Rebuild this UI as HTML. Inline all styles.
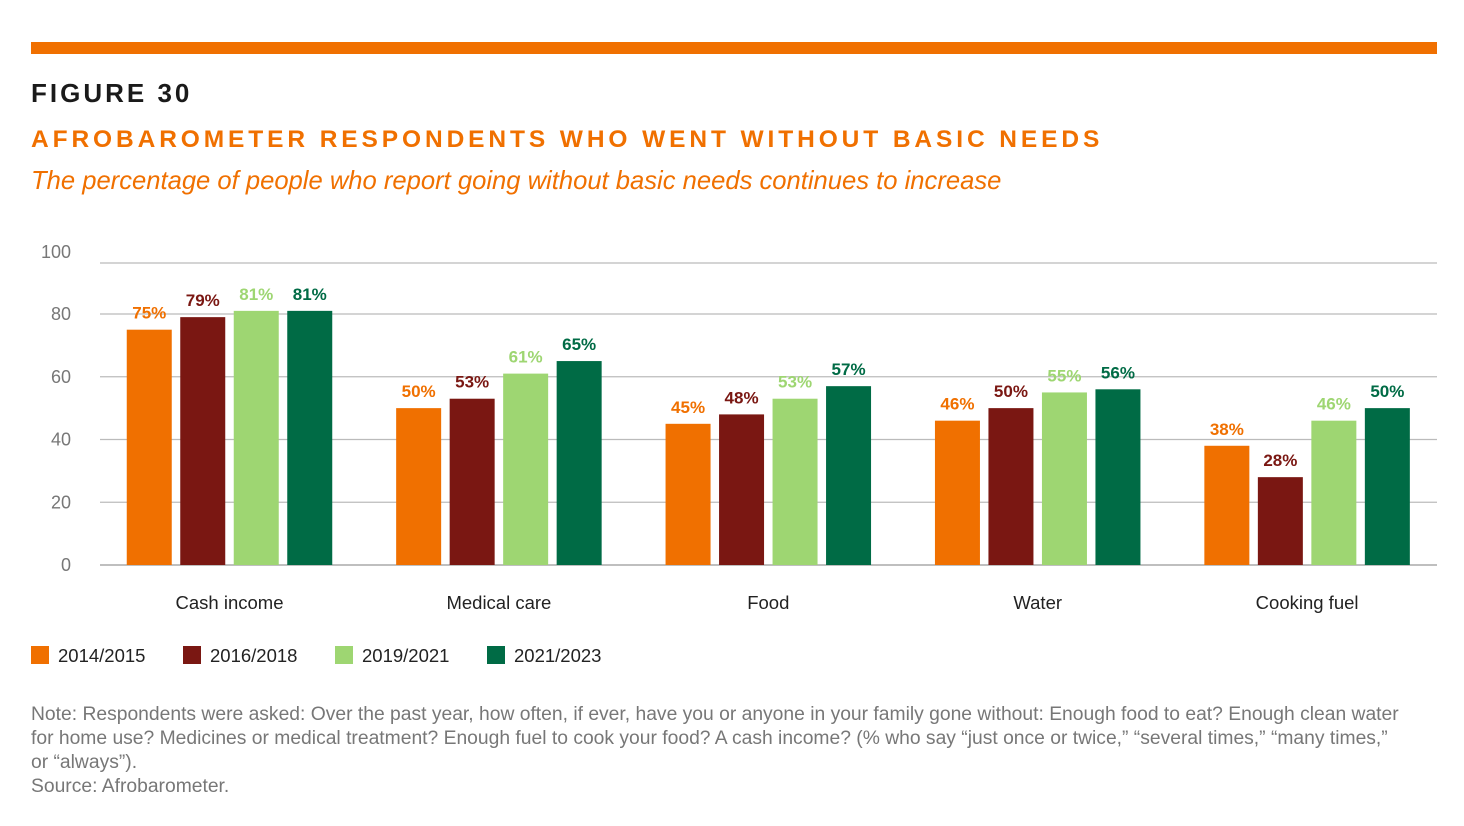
<!DOCTYPE html>
<html><head><meta charset="utf-8"><style>
body{margin:0;width:1464px;height:826px;background:#fff;font-family:"Liberation Sans",sans-serif;position:relative;overflow:hidden}
.abs{position:absolute}
</style></head><body>
<div class="abs" style="left:31px;top:42px;width:1406px;height:12px;background:#F07000"></div>
<div class="abs" style="left:31px;top:78px;font-size:26px;font-weight:bold;letter-spacing:3px;color:#1a1a1a">FIGURE 30</div>
<div class="abs" style="left:31px;top:126px;font-size:24.5px;font-weight:bold;letter-spacing:3.9px;color:#F07000">AFROBAROMETER RESPONDENTS WHO WENT WITHOUT BASIC NEEDS</div>
<div class="abs" style="left:31px;top:167px;font-size:25.6px;font-style:italic;color:#F07000">The percentage of people who report going without basic needs continues to increase</div>
<svg class="abs" style="left:0;top:0" width="1464" height="826" id="chart"></svg>
<div class="abs" style="left:31px;top:646px;font-size:18.5px;color:#222" id="legend"></div>
<div class="abs" style="left:31px;top:703px;width:1376px;font-size:19.3px;line-height:24px;color:#777">Note: Respondents were asked: Over the past year, how often, if ever, have you or anyone in your family gone without: Enough food to eat? Enough clean water for home use? Medicines or medical treatment? Enough fuel to cook your food? A cash income? (% who say “just once or twice,” “several times,” “many times,” or “always”).<br>Source: Afrobarometer.</div>
<script>
const categories=["Cash income","Medical care","Food","Water","Cooking fuel"];
const seriesNames=["2014/2015","2016/2018","2019/2021","2021/2023"];
const s2014=[75,50,45,46,38];
const s2016=[79,53,48,50,28];
const s2019=[81,61,53,55,46];
const s2021=[81,65,57,56,50];
const ticks=[0,20,40,60,80,100];
const series=[s2014,s2016,s2019,s2021];
const colors=["#F07000","#7A1712","#9ED672","#006B45"];
const NS="http://www.w3.org/2000/svg";
const svg=document.getElementById('chart');
const y=v=>565-v*3.1375;
const xc=i=>229.5+i*269.4;
function mk(t,a,txt){const e=document.createElementNS(NS,t);for(const k in a)e.setAttribute(k,a[k]);if(txt!=null)e.textContent=txt;svg.appendChild(e);return e;}
ticks.forEach(t=>{
  const yy=t===100?263:y(t);
  const l=mk('line',{x1:100,x2:1437,y1:yy,y2:yy,stroke:t===0?'#999':'#bbb','stroke-width':1.2});
  
  
  const tx=mk('text',{x:71,y:(t===100?252:y(t))+6,'text-anchor':'end','font-size':18,fill:'#777','font-family':'Liberation Sans'},t);
  
  
});
categories.forEach((c,i)=>{
  series.forEach((s,j)=>{
    const cx=xc(i)+(j-1.5)*53.5;
    const r=mk('rect',{x:cx-22.5,y:y(s[i]),width:45,height:565-y(s[i]),fill:colors[j]});
    
    
    const t=mk('text',{x:cx,y:y(s[i])-11,'text-anchor':'middle','font-size':17,'font-weight':'bold',fill:colors[j],'font-family':'Liberation Sans'},s[i]+'%');
    
    
  });
  const cl=mk('text',{x:xc(i),y:609,'text-anchor':'middle','font-size':18.5,fill:'#222','font-family':'Liberation Sans'},c);
  
  
});
const lg=document.getElementById('legend');
seriesNames.forEach((n,j)=>{
  const d=document.createElement('div');
  
  
  d.style.cssText=`position:absolute;left:${j*152}px;top:0;white-space:nowrap;line-height:20px`;
  d.innerHTML=`<span style="display:inline-block;width:18px;height:18px;background:${colors[j]};vertical-align:-2px;margin-right:9px"></span>${n}`;
  lg.appendChild(d);
});
</script>
</body></html>
